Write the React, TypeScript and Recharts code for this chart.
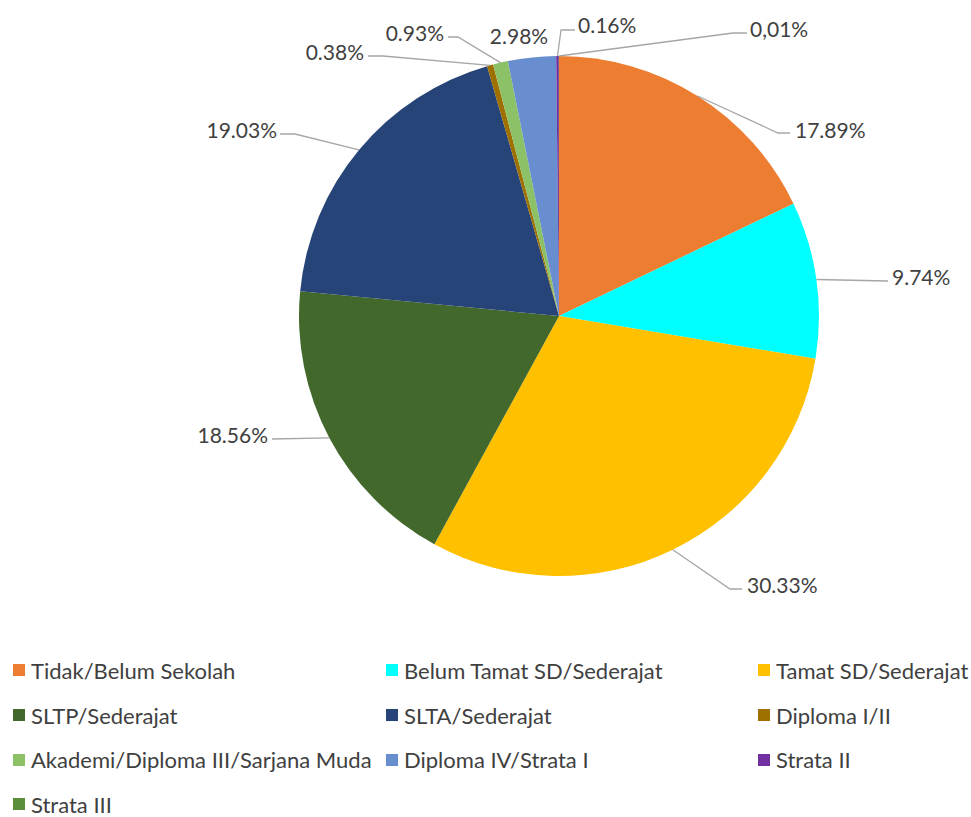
import React from "react";
import { PieChart, Pie, Cell, Legend } from "recharts";

const categories = [
  "Tidak/Belum Sekolah",
  "Belum Tamat SD/Sederajat",
  "Tamat SD/Sederajat",
  "SLTP/Sederajat",
  "SLTA/Sederajat",
  "Diploma I/II",
  "Akademi/Diploma III/Sarjana Muda",
  "Diploma IV/Strata I",
  "Strata II",
  "Strata III",
];

const values = [17.89, 9.74, 30.33, 18.56, 19.03, 0.38, 0.93, 2.98, 0.16, 0.01];

const labelTexts = ["17.89%", "9.74%", "30.33%", "18.56%", "19.03%", "0.38%", "0.93%", "2.98%", "0.16%", "0,01%"];

const colors = [
  "#ED7D31",
  "#00FFFF",
  "#FFC000",
  "#43682B",
  "#264478",
  "#9E7000",
  "#8CC168",
  "#698ED0",
  "#7030A0",
  "#5B8E3A",
];

// label layout: text anchor point and leader-line bend points
type LL = { tx: number; ty: number; anchor: "start" | "end" | "middle"; line: number[][] | null };
const labelLayout: LL[] = [
  { tx: 795, ty: 129, anchor: "start", line: [[778, 133], [790, 133]] },
  { tx: 892, ty: 276, anchor: "start", line: [[888, 281]] },
  { tx: 747, ty: 584, anchor: "start", line: [[730, 589], [742, 589]] },
  { tx: 268, ty: 434, anchor: "end", line: [[272, 439]] },
  { tx: 277, ty: 129, anchor: "end", line: [[295, 134], [280, 134]] },
  { tx: 364, ty: 51, anchor: "end", line: [[383, 56], [368, 56]] },
  { tx: 444, ty: 32, anchor: "end", line: [[458, 37], [448, 37]] },
  { tx: 519, ty: 35, anchor: "middle", line: null },
  { tx: 578, ty: 24, anchor: "start", line: [[561, 30], [575, 30]] },
  { tx: 750, ty: 28, anchor: "start", line: [[733, 33], [747, 33]] },
];

const data = categories.map((name, i) => ({ name, value: values[i] }));

const FONT = "Lato, 'Open Sans', sans-serif";
const RAD = Math.PI / 180;

const renderLabel = (props: any) => {
  const { cx, cy, midAngle, outerRadius, index } = props;
  const lay = labelLayout[index];
  const sx = cx + outerRadius * Math.cos(-midAngle * RAD);
  const sy = cy + outerRadius * Math.sin(-midAngle * RAD);
  let path = "";
  if (lay.line) {
    path = `M${sx},${sy}` + lay.line.map((p) => ` L${p[0]},${p[1]}`).join("");
  }
  return (
    <g key={`lbl-${index}`}>
      {path && <path d={path} stroke="#A6A6A6" strokeWidth={1.3} fill="none" />}
      <text
        x={lay.tx}
        y={lay.ty}
        textAnchor={lay.anchor}
        dominantBaseline="central"
        fill="#404040"
        fontSize={21}
        fontFamily={FONT}
      >
        {labelTexts[index]}
      </text>
    </g>
  );
};

const renderLegend = () => (
  <div
    style={{
      display: "grid",
      gridTemplateColumns: "373px 372px 226px",
      gridAutoRows: "44.7px",
      paddingLeft: 13,
      fontFamily: FONT,
      fontSize: 22,
      color: "#404040",
    }}
  >
    {categories.map((c, i) => (
      <div key={c} style={{ display: "flex", alignItems: "center", whiteSpace: "nowrap" }}>
        <span
          style={{
            display: "inline-block",
            width: 12,
            height: 12,
            background: colors[i],
            marginRight: 6,
            flexShrink: 0,
          }}
        />
        <span>{c}</span>
      </div>
    ))}
  </div>
);

export default function App() {
  return (
    <div style={{ position: "absolute", left: 0, top: 0, width: 971, height: 817, background: "#fff" }}>
      <PieChart width={971} height={817} margin={{ top: 0, right: 0, bottom: 0, left: 0 }}>
        <Pie
          data={data}
          dataKey="value"
          nameKey="name"
          cx={559}
          cy={316}
          outerRadius={260}
          startAngle={90}
          endAngle={-270}
          stroke="none"
          label={renderLabel}
          labelLine={false}
          isAnimationActive={false}
        >
          {data.map((d, i) => (
            <Cell key={d.name} fill={colors[i]} />
          ))}
        </Pie>
        <Legend
          content={renderLegend}
          wrapperStyle={{ position: "absolute", left: 0, top: 648, width: 971 }}
        />
      </PieChart>
    </div>
  );
}
